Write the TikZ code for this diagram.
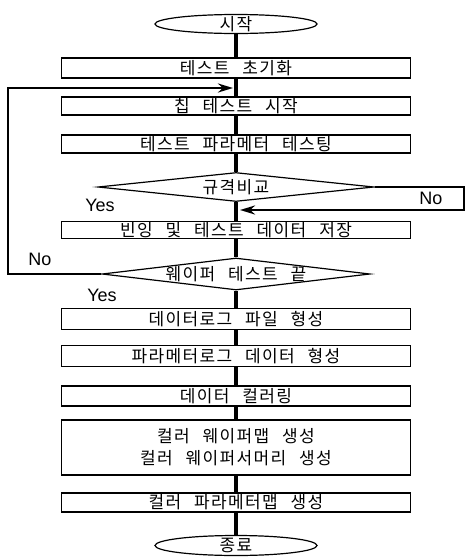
\documentclass[tikz,border=0pt]{standalone}
\usepackage{fontspec}
\usepackage{tikz}
\usetikzlibrary{positioning,shapes.geometric,arrows.meta}
\newfontfamily\krfont[LetterSpace=8,WordSpace=2.5]{Noto Sans CJK KR}
\newfontfamily\latinfont{Liberation Sans}
\tikzset{
	% The start and the end of the flow
	terminal/.style={
		draw=black,ellipse,line width=1.2pt,minimum width=162pt,minimum height=19pt,
		inner xsep=0pt,inner ysep=-3pt,font=\krfont\fontsize{17}{20}\selectfont
	},
	% The steps that are done one after another
	process_box/.style={
		draw=black,rectangle,line width=1.2pt,minimum width=349pt,inner xsep=0pt,inner ysep=-1.5pt,
		align=center,font=\krfont\fontsize{17}{22}\selectfont
	},
	% The questions
	decision/.style={
		draw=black,diamond,line width=1.2pt,inner xsep=-25pt,inner ysep=-4pt,shape aspect=8.5,
		font=\krfont\fontsize{17}{20}\selectfont
	},
	% The yes and no marks
	answer/.style={
		inner sep=0pt,font=\latinfont\fontsize{18}{21}\selectfont
	},
	% The main line down the middle
	main_flow/.style={
		line width=3.5pt
	},
	% The lines that go back into the main line
	loop_back/.style={
		line width=2.5pt,-{Stealth[length=15pt,width=9pt]}
	},
}
\begin{document}
\begin{tikzpicture}[x=1pt,y=-1pt]
		\useasboundingbox (0,0) rectangle (466,557);
		\node [terminal] (Start) at (236,24) {시작};
		\node [process_box,minimum height=20pt] (Test init) at (236,68) {테스트 초기화};
		\node [process_box,minimum height=18pt] (Chip test) at (236,106) {칩 테스트 시작};
		\node [process_box,minimum height=18pt] (Param test) at (236,144) {테스트 파라메터 테스팅};
		% Questions
		\node [decision,minimum width=276pt,minimum height=29pt] (Spec compare) at (236,187) {규격비교};
		\node [process_box,minimum height=17pt] (Binning) at (236,230) {빈잉 및 테스트 데이터 저장};
		\node [decision,minimum width=268pt,minimum height=32pt] (Wafer end) at (236,274) {웨이퍼 테스트 끝};

		% Data
		\node [process_box,minimum height=21pt] (Datalog) at (236,319) {데이터로그 파일 형성};
		\node [process_box,minimum height=21pt] (Paramlog) at (236,356) {파라메터로그 데이터 형성};
		\node [process_box,minimum height=20pt] (Coloring) at (236,396) {데이터 컬러링};
		\node [process_box,minimum height=55pt] (Wafer map) at (236,447.5) {컬러 웨이퍼맵 생성\\컬러 웨이퍼서머리 생성};
		\node [process_box,minimum height=19pt] (Param map) at (236,502.5) {컬러 파라메터맵 생성};
		\node [terminal,minimum height=20pt] (End) at (236,545.5) {종료};

		% Yes and no
		\node [answer] (Yes spec) at (100,205) {Yes};
		\node [answer] (No spec) at (431,198) {No};
		\node [answer] (No wafer) at (40,259) {No};
		\node [answer] (Yes wafer) at (102,295) {Yes};

		\coordinate (Right turn) at (464,187);
		\coordinate (Right in) at (240,210);
		\coordinate (Left turn) at (8,274);
		\coordinate (Left in) at (233,88);

		\draw [main_flow] (Start) -- (Test init) -- (Chip test) -- (Param test) -- (Spec compare) -- (Binning) -- (Wafer end) -- (Datalog) -- (Paramlog) -- (Coloring) -- (Wafer map) -- (Param map) -- (End);
		\draw [loop_back] (Spec compare.east) -- (Right turn) |- (Right in);
		\draw [loop_back] (Wafer end.west) -- (Left turn) |- (Left in);
	\end{tikzpicture}
\end{document}
